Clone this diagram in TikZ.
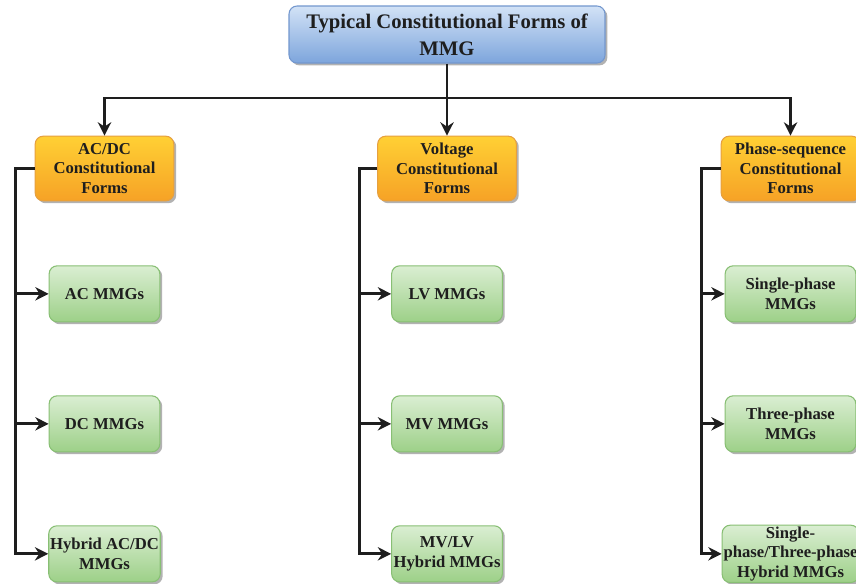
\documentclass[tikz,border=0pt]{standalone}
\usepackage{fontspec}
\setmainfont{Liberation Serif}
\usetikzlibrary{arrows.meta,shadows}
\definecolor{txt}{HTML}{1E1E1E}
\definecolor{wire}{HTML}{1E1E1E}
\definecolor{blueT}{HTML}{D2E2F6}
\definecolor{blueB}{HTML}{7DA5DC}
\definecolor{blueD}{HTML}{7397CE}
\definecolor{orT}{HTML}{FFD034}
\definecolor{orB}{HTML}{F6A226}
\definecolor{orD}{HTML}{E6A040}
\definecolor{grT}{HTML}{DAEED2}
\definecolor{grB}{HTML}{9DD088}
\definecolor{grD}{HTML}{88BF74}
\begin{document}
\begin{tikzpicture}[x=0.75pt,y=-0.75pt,
	box/.style = {draw, rounded corners=6pt, align=center, inner sep=1pt, line width=0.8pt, text=txt,
		font=\bfseries\fontsize{12.5}{14.8}\selectfont,
		drop shadow={shadow xshift=1.8pt, shadow yshift=-1.8pt, opacity=0.5, fill=black!60}},
	root/.style = {box, draw=blueD, top color=blueT, bottom color=blueB,
		minimum width=237pt, minimum height=42.75pt, font=\bfseries\fontsize{15.5}{20}\selectfont},
	form/.style = {box, draw=orD, top color=orT, bottom color=orB, minimum width=104pt, minimum height=48.5pt},
	kind/.style = {box, draw=grD, top color=grT, bottom color=grB, minimum width=83pt, minimum height=42pt},
	link/.style = {draw=wire, line width=2.2pt, -{Stealth[length=10pt,width=10pt]}},
	node distance=97.5pt]
	\path[use as bounding box, fill=white] (0,0) rectangle (856,583);
	\node[root] (top) at (447,34.5) {Typical Constitutional Forms of\\MMG};
	\node[form] (acdc) at (104.5,168.5) {AC/DC\\Constitutional\\Forms};
	\node[form] (volt) at (447,168.5) {Voltage\\Constitutional\\Forms};
	\node[form] (phase) at (790.5,168.5) {Phase-sequence\\Constitutional\\Forms};
	\node[kind] (ac) [below of=acdc, node distance=94pt] {AC MMGs};
	\node[kind] (dc) [below of=ac] {DC MMGs};
	\node[kind] (hyb) [below of=dc] {Hybrid AC/DC\\MMGs};
	\node[kind] (lv) [below of=volt, node distance=94pt] {LV MMGs};
	\node[kind] (mv) [below of=lv] {MV MMGs};
	\node[kind] (mvlv) [below of=mv] {MV/LV\\Hybrid MMGs};
	\node[kind, minimum width=98pt] (single) [below of=phase, node distance=94pt] {Single-phase\\MMGs};
	\node[kind, minimum width=98pt] (three) [below of=single] {Three-phase\\MMGs};
	\node[kind, minimum width=98pt] (mixed) [below of=three] {Single-\\phase/Three-phase\\Hybrid MMGs};
	\coordinate (bus) at (447,98);
	\draw[link] (top) -- (volt);
	\draw[link] (bus) -| (acdc);
	\draw[link] (bus) -| (phase);
	\draw[link] (acdc.west) -- ++(-19,0) |- (ac);
	\draw[link] (acdc.west) -- ++(-19,0) |- (dc);
	\draw[link] (acdc.west) -- ++(-19,0) |- (hyb);
	\draw[link] (volt.west) -- ++(-18,0) |- (lv);
	\draw[link] (volt.west) -- ++(-18,0) |- (mv);
	\draw[link] (volt.west) -- ++(-18,0) |- (mvlv);
	\draw[link] (phase.west) -- ++(-19,0) |- (single);
	\draw[link] (phase.west) -- ++(-19,0) |- (three);
	\draw[link] (phase.west) -- ++(-19,0) |- (mixed);
\end{tikzpicture}
\end{document}
